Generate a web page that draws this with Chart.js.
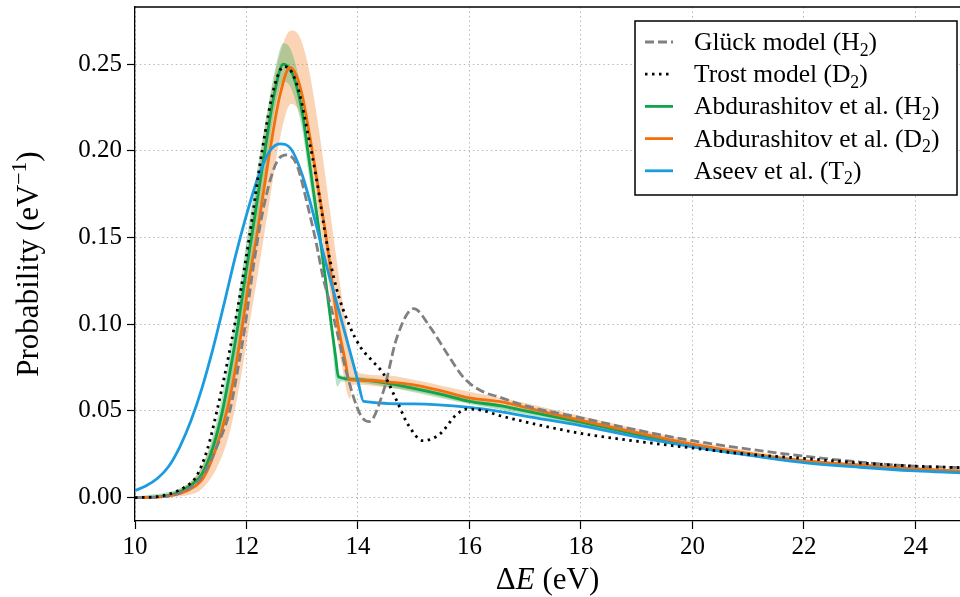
<!DOCTYPE html>
<html>
<head>
<meta charset="utf-8">
<script src="https://cdn.jsdelivr.net/npm/chart.js@4.4.1/dist/chart.umd.min.js"></script>
<style>
  html, body { margin: 0; padding: 0; background: #fff; }
  #wrap { width: 960px; height: 597px; }
</style>
</head>
<body>
<div id="wrap"><canvas id="chart" width="960" height="597"></canvas></div>
<script>
// ---- data ----
const xTicks = [10, 12, 14, 16, 18, 20, 22, 24];
const yTicks = [0, 0.05, 0.10, 0.15, 0.20, 0.25];

// Glück model (H2)
const xGluck = [10, 10.5, 10.9, 11.2, 11.45, 11.7, 11.85, 11.98, 12.1, 12.25, 12.4, 12.55, 12.72, 12.9, 13.1, 13.25, 13.38, 13.5, 13.65, 13.8, 14.04, 14.2, 14.46, 14.7, 15.0, 15.3, 15.6, 15.9, 16.2, 16.55, 17, 18, 19, 20, 21, 22, 23, 24, 24.8];
const yGluck = [0, 0.0005, 0.004, 0.012, 0.028, 0.05, 0.075, 0.10, 0.128, 0.158, 0.18, 0.194, 0.1976, 0.192, 0.168, 0.147, 0.126, 0.112, 0.092, 0.0713, 0.048, 0.0438, 0.0617, 0.0925, 0.109, 0.098, 0.083, 0.069, 0.0617, 0.0578, 0.053, 0.046, 0.039, 0.0328, 0.028, 0.0239, 0.0205, 0.0181, 0.0173];

// Trost model (D2)
const xTrost = [10, 10.4, 10.7, 10.9, 11.09, 11.3, 11.47, 11.65, 11.79, 11.9, 12.05, 12.28, 12.5, 12.67, 12.8, 12.95, 13.1, 13.26, 13.45, 13.62, 13.85, 14.04, 14.25, 14.46, 14.7, 14.9, 15.17, 15.47, 15.77, 15.95, 16.2, 16.55, 17.45, 18, 19, 20, 21, 22, 23, 24, 24.8];
const yTrost = [0, 0.0005, 0.003, 0.0062, 0.0116, 0.028, 0.05, 0.077, 0.10, 0.12, 0.15, 0.20, 0.237, 0.2486, 0.246, 0.233, 0.21, 0.183, 0.145, 0.12, 0.099, 0.087, 0.079, 0.0713, 0.0555, 0.042, 0.0328, 0.0367, 0.048, 0.051, 0.0505, 0.0472, 0.0405, 0.037, 0.0325, 0.0286, 0.025, 0.0226, 0.020, 0.0181, 0.0173];

// Abdurashitov et al. (H2)
const xAbdH2 = [10, 10.4, 10.7, 11.0, 11.2, 11.4, 11.57, 11.7, 11.85, 12.0, 12.1, 12.2, 12.33, 12.5, 12.66, 12.8, 12.9, 13.0, 13.1, 13.2, 13.32, 13.52, 13.6, 13.65, 14.0, 14.5, 15.0, 15.5, 16.0, 16.55, 17, 18, 19, 20, 21, 22, 23, 24, 24.8];
const yAbdH2 = [0, 0.0004, 0.002, 0.007, 0.0135, 0.029, 0.05, 0.072, 0.10, 0.132, 0.152, 0.173, 0.20, 0.233, 0.250, 0.246, 0.237, 0.222, 0.200, 0.177, 0.150, 0.100, 0.081, 0.0695, 0.068, 0.066, 0.063, 0.0595, 0.0555, 0.053, 0.050, 0.0435, 0.0365, 0.030, 0.0252, 0.021, 0.0185, 0.0163, 0.0152];
const xBandH2 = [10, 11.0, 11.2, 11.4, 11.57, 11.85, 12.0, 12.2, 12.33, 12.5, 12.66, 12.8, 13.0, 13.1, 13.32, 13.52, 13.63, 13.7, 14, 16, 18, 20, 22, 24, 24.8];
const hiBandH2 = [0.0003, 0.009, 0.018, 0.036, 0.06, 0.115, 0.148, 0.19, 0.215, 0.245, 0.262, 0.258, 0.232, 0.208, 0.155, 0.105, 0.075, 0.0705, 0.0695, 0.057, 0.0452, 0.031, 0.0218, 0.0168, 0.0158];
const loBandH2 = [0, 0.005, 0.01, 0.023, 0.041, 0.087, 0.118, 0.158, 0.185, 0.222, 0.240, 0.236, 0.212, 0.19, 0.142, 0.094, 0.064, 0.067, 0.0665, 0.054, 0.0418, 0.0288, 0.020, 0.0156, 0.0146];

// Abdurashitov et al. (D2)
const xAbdD2 = [10, 10.4, 10.7, 11.0, 11.23, 11.45, 11.65, 11.8, 11.93, 12.07, 12.18, 12.3, 12.42, 12.6, 12.78, 12.9, 13.0, 13.1, 13.18, 13.3, 13.43, 13.64, 13.77, 13.84, 14.0, 14.5, 15.0, 15.5, 16.0, 16.55, 17, 18, 19, 20, 21, 22, 23, 24, 24.8];
const yAbdD2 = [0, 0.0003, 0.0015, 0.005, 0.0116, 0.028, 0.05, 0.074, 0.10, 0.13, 0.15, 0.175, 0.20, 0.232, 0.248, 0.243, 0.232, 0.215, 0.200, 0.176, 0.150, 0.100, 0.079, 0.068, 0.0678, 0.0668, 0.065, 0.0615, 0.0575, 0.0553, 0.052, 0.0445, 0.0375, 0.0309, 0.0255, 0.0212, 0.0187, 0.0165, 0.0152];
const xBandD2 = [10, 10.4, 10.7, 11.0, 11.2, 11.45, 11.65, 11.8, 11.93, 12.07, 12.2, 12.4, 12.6, 12.8, 12.95, 13.1, 13.3, 13.5, 13.7, 13.86, 13.9, 14.0, 14.5, 15, 16, 17, 18, 20, 22, 24, 24.8];
const hiBandD2 = [0.0005, 0.0012, 0.0035, 0.0095, 0.018, 0.039, 0.066, 0.093, 0.122, 0.155, 0.184, 0.226, 0.256, 0.2694, 0.266, 0.250, 0.212, 0.165, 0.118, 0.085, 0.078, 0.072, 0.0705, 0.068, 0.061, 0.0545, 0.047, 0.0328, 0.0225, 0.0175, 0.0162];
const loBandD2 = [0, 0, 0.0005, 0.0018, 0.005, 0.016, 0.032, 0.052, 0.075, 0.103, 0.128, 0.168, 0.207, 0.227, 0.222, 0.202, 0.162, 0.118, 0.078, 0.057, 0.065, 0.065, 0.0635, 0.0615, 0.0545, 0.049, 0.042, 0.0288, 0.0198, 0.0152, 0.0142];

// Aseev et al. (T2)
const xAseev = [10, 10.2, 10.4, 10.6, 10.8, 11.0, 11.2, 11.4, 11.6, 11.8, 12.0, 12.2, 12.4, 12.6, 12.8, 13.0, 13.5, 13.8, 14.0, 14.1, 15.0, 16.0, 16.55, 17, 18, 19, 20, 21, 22, 23, 24, 24.8];
const yAseev = [0.004, 0.0068, 0.011, 0.0178, 0.029, 0.044, 0.063, 0.086, 0.112, 0.139, 0.163, 0.184, 0.199, 0.204, 0.201, 0.186, 0.126, 0.091, 0.067, 0.0555, 0.054, 0.052, 0.0496, 0.047, 0.0415, 0.035, 0.0293, 0.0245, 0.0202, 0.0175, 0.0154, 0.0143];

const legendLabels = ['Glück model (H_2)', 'Trost model (D_2)', 'Abdurashitov et al. (H_2)', 'Abdurashitov et al. (D_2)', 'Aseev et al. (T_2)'];

const GREEN = '#0fa54b';
const ORANGE = '#f3700c';
const BLUE = '#1b9be0';
const GREY = '#808080';
const SERIF = '"Liberation Serif", "Times New Roman", serif';

function pts(xs, ys) {
    return xs.map((x, i) => ({ x: x, y: ys[i] }));
}

function line(label, xs, ys, color, dash, order) {
    return {
        label: label,
        data: pts(xs, ys),
        borderColor: color,
        borderWidth: 2.8,
        borderDash: dash,
        borderCapStyle: 'butt',
        pointRadius: 0,
        fill: false,
        cubicInterpolationMode: 'monotone',
        order: order
    };
}

function band(xs, ys, color, fill, order) {
    return {
        label: '',
        data: pts(xs, ys),
        borderColor: 'rgba(0,0,0,0)',
        borderWidth: 0,
        backgroundColor: color,
        pointRadius: 0,
        fill: fill,
        cubicInterpolationMode: 'monotone',
        order: order
    };
}

// text where "_x" is a subscript, "^x" a superscript, "*x" italic
function richParts(str) {
    const parts = [];
    let i = 0, buf = '';
    while (i < str.length) {
        const c = str[i];
        if (c === '_' || c === '^' || c === '*') {
            if (buf) parts.push({ t: buf }); buf = '';
            let tok = str[i + 1];
            if (tok === '{') {
                const end = str.indexOf('}', i);
                tok = str.slice(i + 2, end);
                i = end + 1;
            } else i += 2;
            parts.push({ t: tok, kind: c });
        } else { buf += c; i++; }
    }
    if (buf) parts.push({ t: buf });
    return parts;
}

function fontFor(p, size) {
    if (p.kind === '_' || p.kind === '^') return (size * 0.7).toFixed(1) + 'px ' + SERIF;
    if (p.kind === '*') return 'italic ' + size + 'px ' + SERIF;
    return size + 'px ' + SERIF;
}

function richWidth(ctx, str, size) {
    let w = 0;
    richParts(str).forEach(p => { ctx.font = fontFor(p, size); w += ctx.measureText(p.t).width; });
    return w;
}

function drawRich(ctx, str, x, y, size) {
    ctx.textBaseline = 'alphabetic';
    ctx.textAlign = 'left';
    richParts(str).forEach(p => {
        ctx.font = fontFor(p, size);
        let dy = 0;
        if (p.kind === '_') dy = size * 0.22;
        if (p.kind === '^') dy = -size * 0.4;
        ctx.fillText(p.t, x, y + dy);
        x += ctx.measureText(p.t).width;
    });
}

const legendStyles = [
    { color: GREY, dash: [9, 4] },
    { color: '#000', dash: [2.5, 4.5] },
    { color: GREEN, dash: [] },
    { color: ORANGE, dash: [] },
    { color: BLUE, dash: [] }
];

const decorPlugin = {
    id: 'decor',
    afterDraw(chart) {
        const ctx = chart.ctx;
        const a = chart.chartArea;
        ctx.save();
        // top spine
        ctx.strokeStyle = '#000';
        ctx.lineWidth = 1.3;
        ctx.beginPath();
        ctx.moveTo(a.left, a.top);
        ctx.lineTo(a.right, a.top);
        ctx.stroke();

        // axis titles
        ctx.fillStyle = '#000';
        const xt = '\u0394*E (eV)';
        const xw = richWidth(ctx, xt, 31);
        drawRich(ctx, xt, (a.left + a.right) / 2 - xw / 2, 589, 31);

        const yt = 'Probability (eV^{\u22121})';
        const yw = richWidth(ctx, yt, 31);
        ctx.save();
        ctx.translate(38, (a.top + a.bottom) / 2);
        ctx.rotate(-Math.PI / 2);
        drawRich(ctx, yt, -yw / 2, 0, 31);
        ctx.restore();

        // legend
        const bx = 635, by = 21, bw = 322, bh = 174;
        ctx.fillStyle = '#fff';
        ctx.fillRect(bx, by, bw, bh);
        ctx.strokeStyle = '#000';
        ctx.lineWidth = 1.5;
        ctx.strokeRect(bx, by, bw, bh);
        legendLabels.forEach((lab, i) => {
            const yc = 42 + i * 32.2;
            const st = legendStyles[i];
            ctx.strokeStyle = st.color;
            ctx.lineWidth = 2.8;
            ctx.setLineDash(st.dash);
            ctx.beginPath();
            ctx.moveTo(645, yc);
            ctx.lineTo(673, yc);
            ctx.stroke();
            ctx.setLineDash([]);
            ctx.fillStyle = '#000';
            drawRich(ctx, lab, 694, yc + 8, 25.5);
        });
        ctx.restore();
    }
};

const tickFont = { family: SERIF, size: 25 };

new Chart(document.getElementById('chart'), {
    type: 'line',
    data: {
        datasets: [
            line('Trost model (D2)', xTrost, yTrost, '#000', [2.5, 4.5], 0),
            line('Glück model (H2)', xGluck, yGluck, GREY, [9, 4], 1),
            line('Aseev et al. (T2)', xAseev, yAseev, BLUE, [], 2),
            line('Abdurashitov et al. (D2)', xAbdD2, yAbdD2, ORANGE, [], 3),
            line('Abdurashitov et al. (H2)', xAbdH2, yAbdH2, GREEN, [], 4),
            band(xBandH2, loBandH2, 'rgba(0,0,0,0)', false, 5),
            band(xBandH2, hiBandH2, 'rgba(15,165,75,0.3)', '-1', 5),
            band(xBandD2, loBandD2, 'rgba(0,0,0,0)', false, 6),
            band(xBandD2, hiBandD2, 'rgba(243,112,12,0.3)', '-1', 6)
        ]
    },
    options: {
        responsive: false,
        animation: false,
        layout: { padding: { top: 7, right: 0, left: 0, bottom: 0 } },
        plugins: {
            legend: { display: false },
            tooltip: { enabled: false }
        },
        scales: {
            x: {
                type: 'linear',
                min: 10,
                max: 24.8,
                afterBuildTicks: s => { s.ticks = xTicks.map(v => ({ value: v })); },
                afterFit: s => { s.height = 76; s.paddingLeft = 0; s.paddingRight = 0; },
                ticks: { font: tickFont, color: '#000', padding: 3, maxRotation: 0, callback: v => String(v) },
                grid: { color: '#b8b8b8', lineWidth: 1, tickColor: '#000', tickLength: 8, tickWidth: 1.2 },
                border: { color: '#000', width: 1.3, dash: [1.5, 3] }
            },
            y: {
                type: 'linear',
                min: -0.0135,
                max: 0.2829,
                afterBuildTicks: s => { s.ticks = yTicks.map(v => ({ value: v })); },
                afterFit: s => { s.width = 135; s.paddingTop = 0; s.paddingBottom = 0; },
                ticks: { font: tickFont, color: '#000', padding: 5, callback: v => v.toFixed(2) },
                grid: { color: '#b8b8b8', lineWidth: 1, tickColor: '#000', tickLength: 8, tickWidth: 1.2 },
                border: { color: '#000', width: 1.3, dash: [1.5, 3] }
            }
        }
    },
    plugins: [decorPlugin]
});
</script>
</body>
</html>
